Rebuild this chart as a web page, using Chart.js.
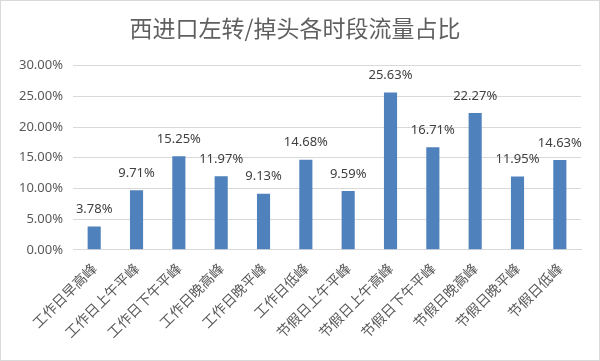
<!DOCTYPE html>
<html>
<head>
<meta charset="utf-8">
<script src="https://cdn.jsdelivr.net/npm/chart.js@4/dist/chart.umd.min.js"></script>
<style>
  html, body { margin: 0; padding: 0; background: #fff; }
  #wrap { width: 598px; height: 359px; border: 1px solid #d9d9d9; position: relative; }
</style>
</head>
<body>
<div id="wrap"><canvas id="chart"></canvas></div>
<script>
// Data
const periods = ['工作日早高峰', '工作日上午平峰', '工作日下午平峰', '工作日晚高峰', '工作日晚平峰', '工作日低峰',
                 '节假日上午平峰', '节假日上午高峰', '节假日下午平峰', '节假日晚高峰', '节假日晚平峰', '节假日低峰'];
const shares = [3.78, 9.71, 15.25, 11.97, 9.13, 14.68, 9.59, 25.63, 16.71, 22.27, 11.95, 14.63];
const yTicks = [0, 5, 10, 15, 20, 25, 30];

// value labels above bars
const barLabels = {
    id: 'barLabels',
    afterDatasetsDraw(chart) {
        const ctx = chart.ctx;
        const meta = chart.getDatasetMeta(0);
        ctx.save();
        ctx.font = '13px "Noto Sans", sans-serif';
        ctx.fillStyle = '#404040';
        ctx.textAlign = 'center';
        ctx.textBaseline = 'middle';
        meta.data.forEach((bar, i) => {
            ctx.fillText(shares[i].toFixed(2) + '%', bar.x, bar.y - 17);
        });
        ctx.restore();
    }
};

const ctx = document.getElementById('chart').getContext('2d');
new Chart(ctx, {
    type: 'bar',
    data: {
        labels: periods,
        datasets: [{
            data: shares,
            backgroundColor: '#4f81bd',
            borderWidth: 0,
            categoryPercentage: 1,
            barPercentage: 0.31
        }]
    },
    options: {
        responsive: true,
        maintainAspectRatio: false,
        animation: false,
        layout: { padding: { left: 8, right: 18, top: 0, bottom: 9 } },
        plugins: {
            legend: { display: false },
            tooltip: { enabled: false },
            title: {
                display: true,
                text: '西进口左转/掉头各时段流量占比',
                color: '#5f5f5f',
                font: { family: '"Noto Sans CJK SC", sans-serif', size: 23, weight: 'normal' },
                padding: { top: 13, bottom: 24 }
            }
        },
        scales: {
            x: {
                grid: { display: false, drawTicks: false },
                border: { color: '#d9d9d9' },
                ticks: {
                    color: '#595959',
                    font: { family: '"Noto Sans CJK SC", sans-serif', size: 14 },
                    maxRotation: 45,
                    minRotation: 45,
                    padding: 10
                }
            },
            y: {
                min: 0,
                max: 30,
                afterBuildTicks(axis) { axis.ticks = yTicks.map(v => ({ value: v })); },
                grid: { color: '#d9d9d9', drawTicks: false },
                border: { display: false },
                ticks: {
                    color: '#595959',
                    font: { family: '"Noto Sans", sans-serif', size: 13 },
                    padding: 10,
                    callback: v => v.toFixed(2) + '%'
                }
            }
        }
    },
    plugins: [barLabels]
});
</script>
</body>
</html>
